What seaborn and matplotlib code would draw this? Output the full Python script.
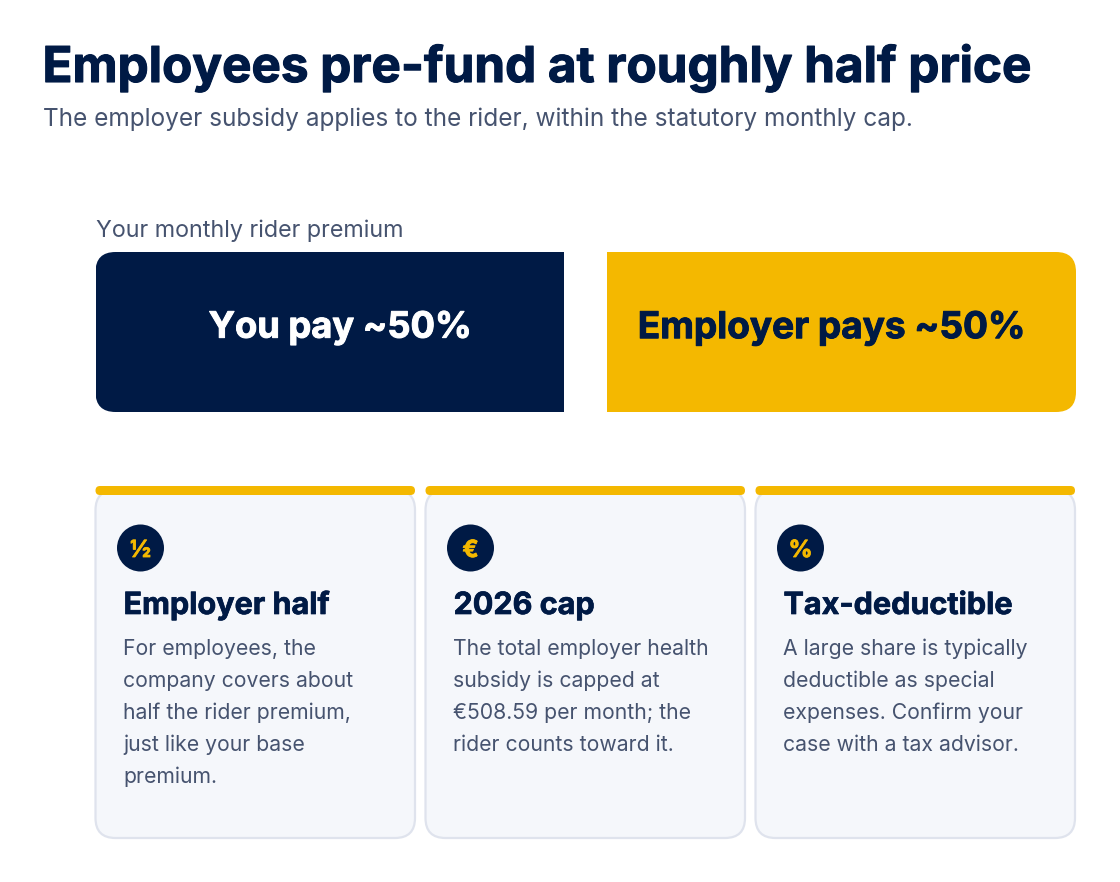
import matplotlib
matplotlib.use("Agg")
import matplotlib.pyplot as plt
import matplotlib.patheffects as pe
from matplotlib.patches import Circle, FancyBboxPatch
import pandas as pd
import seaborn as sns

NAVY = "#001a45"
GOLD = "#f4b800"
SLATE = "#46536f"

title = "Employees pre-fund at roughly half price"
subtitle = "The employer subsidy applies to the rider, within the statutory monthly cap."
bar_caption = "Your monthly rider premium"

# split of the premium
payers = ["You pay", "Employer pays"]
shares = [50, 50]
share_labels = ["You pay ~50%", "Employer pays ~50%"]

card_icons = ["½", "€", "%"]
card_titles = ["Employer half", "2026 cap", "Tax-deductible"]
card_texts = [
    "For employees, the\ncompany covers about\nhalf the rider premium,\njust like your base\npremium.",
    "The total employer health\nsubsidy is capped at\n€508.59 per month; the\nrider counts toward it.",
    "A large share is typically\ndeductible as special\nexpenses. Confirm your\ncase with a tax advisor.",
]

sns.set_theme(style="white")
plt.rcParams["font.family"] = ["Inter", "DejaVu Sans"]

W, H = 1120, 882
fig = plt.figure(figsize=(W / 100, H / 100), dpi=100, facecolor="white")


def heavy(color, w=0.7):
    # Inter bold is a bit lighter than the heading font in the original
    return [pe.withStroke(linewidth=w, foreground=color)]


# overlay in pixel coords for text and cards
bg = fig.add_axes([0, 0, 1, 1])
bg.set_xlim(0, W)
bg.set_ylim(H, 0)
bg.axis("off")

bg.text(42.5, 82, title, fontsize=35.55, fontweight="bold", color=NAVY, va="baseline",
        path_effects=heavy(NAVY, 0.8))
bg.text(43, 126, subtitle, fontsize=17.6, color=SLATE, va="baseline")
bg.text(96, 237, bar_caption, fontsize=16.8, color=SLATE, va="baseline")

# the split bar, two bars of one seaborn chart
ax = fig.add_axes([95.5 / W, 1 - 412 / H, 980.5 / W, 160 / H])
df = pd.DataFrame({"payer": payers, "share": shares})
sns.barplot(data=df, x="payer", y="share", hue="payer", palette=[NAVY, GOLD],
            width=468.5 / 511.5, legend=False, saturation=1, ax=ax)
ax.set_xlim(-0.458, 1.458)
ax.set_ylim(0, 50)
ax.axis("off")

clip = FancyBboxPatch((95.5 + 20, 252 + 20), 980.5 - 40, 160 - 40,
                      boxstyle="round,pad=20,rounding_size=20",
                      transform=bg.transData, fc="none", ec="none")
bg.add_patch(clip)
for bar in ax.patches:
    bar.set_clip_path(clip)
    bar.set_linewidth(0)

label_shift = [0.02, -0.02]
label_size = [26.1, 26.6]
for i, lab in enumerate(share_labels):
    col = "white" if i == 0 else NAVY
    ax.text(i + label_shift[i], 26.2, lab, ha="center", va="center", fontsize=label_size[i],
            fontweight="bold", color=col, path_effects=heavy(col))

card_x = [95.5, 425.5, 755.5]
card_w = 319.5
for x, icon, head, body in zip(card_x, card_icons, card_titles, card_texts):
    bg.add_patch(FancyBboxPatch((x + 20, 490 + 20), card_w - 40, 348 - 40,
                                boxstyle="round,pad=20,rounding_size=20",
                                fc="#f5f7fb", ec="#dfe3ed", lw=1.6))
    bg.add_patch(FancyBboxPatch((x + 4.5, 486 + 4.5), card_w - 9, 0,
                                boxstyle="round,pad=4.5,rounding_size=4.5",
                                fc=GOLD, ec="none"))
    bg.add_patch(Circle((x + 45, 548), 23.5, fc=NAVY, ec="none"))
    bg.text(x + 45, 548.5, icon, ha="center", va="center_baseline", fontsize=17,
            fontweight="bold", color=GOLD, path_effects=heavy(GOLD, 0.6))
    bg.text(x + 28, 614, head, fontsize=22, fontweight="bold", color=NAVY, va="baseline",
            path_effects=heavy(NAVY, 0.5))
    for j, line in enumerate(body.split("\n")):
        bg.text(x + 27.5, 655 + j * 32, line, fontsize=15.25, color=SLATE, va="baseline")

fig.savefig("out.png", dpi=100, facecolor="white")
